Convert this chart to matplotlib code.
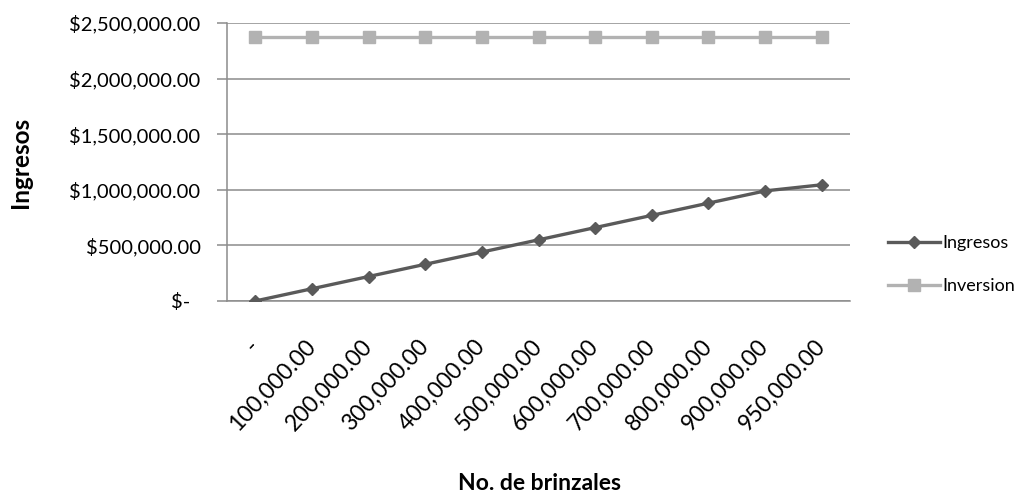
import matplotlib.pyplot as plt
from matplotlib.ticker import FixedLocator, FuncFormatter

plt.rcParams['font.family'] = ['Lato', 'DejaVu Sans']

# brinzales vs ingresos / inversion
brinzales = ['-', '100,000.00', '200,000.00', '300,000.00', '400,000.00', '500,000.00',
             '600,000.00', '700,000.00', '800,000.00', '900,000.00', '950,000.00']
ingresos = [0, 110000, 220000, 330000, 440000, 550000, 660000, 770000, 880000, 990000, 1045000]
inversion = [2370000] * 11
y_ticks = [0, 500000, 1000000, 1500000, 2000000, 2500000]

fig = plt.figure(figsize=(10.35, 4.97), dpi=100)
ax = fig.add_axes([0.2193, 0.3944, 0.6020, 0.5593])

x = range(len(brinzales))
ax.plot(x, ingresos, color='#5a5a5a', lw=2.4, marker='D', ms=6.5, label='Ingresos', zorder=3)
ax.plot(x, inversion, color='#b2b2b2', lw=2.4, marker='s', ms=8.5, label='Inversion', zorder=3)

ax.set_xlim(-0.5, len(brinzales) - 0.5)
ax.set_ylim(0, 2500000)

def money(v, pos):
    if v == 0:
        return '$-  '
    return '${:,.2f}'.format(v)

ax.yaxis.set_major_locator(FixedLocator(y_ticks))
ax.yaxis.set_major_formatter(FuncFormatter(money))
ax.grid(axis='y', color='#8c8c8c', lw=1.1)
ax.set_axisbelow(True)

ax.set_xticks(list(x))
ax.set_xticklabels(brinzales, rotation=47, ha='right', va='center', rotation_mode='anchor')
ax.tick_params(axis='x', length=0, pad=30, labelsize=16.5)
ax.tick_params(axis='y', length=7, width=1.1, color='#8c8c8c', pad=12, labelsize=14.5)

for side in ['top', 'right']:
    ax.spines[side].set_visible(False)
ax.spines['left'].set_color('#8c8c8c')
ax.spines['bottom'].set_color('#8c8c8c')
ax.spines['left'].set_linewidth(1.1)
ax.spines['bottom'].set_linewidth(1.1)

fig.text(0.02, 0.674, 'Ingresos', rotation=90, ha='center', va='center',
         fontsize=17.5, fontweight='bold')
fig.text(0.521, 0.028, 'No. de brinzales', ha='center', va='center',
         fontsize=16.5, fontweight='bold')

fig.legend(loc='center left', bbox_to_anchor=(0.842, 0.468), frameon=False,
           fontsize=13, handlelength=2.9, handletextpad=0.1, labelspacing=1.5)

fig.savefig('out.png', dpi=100)
